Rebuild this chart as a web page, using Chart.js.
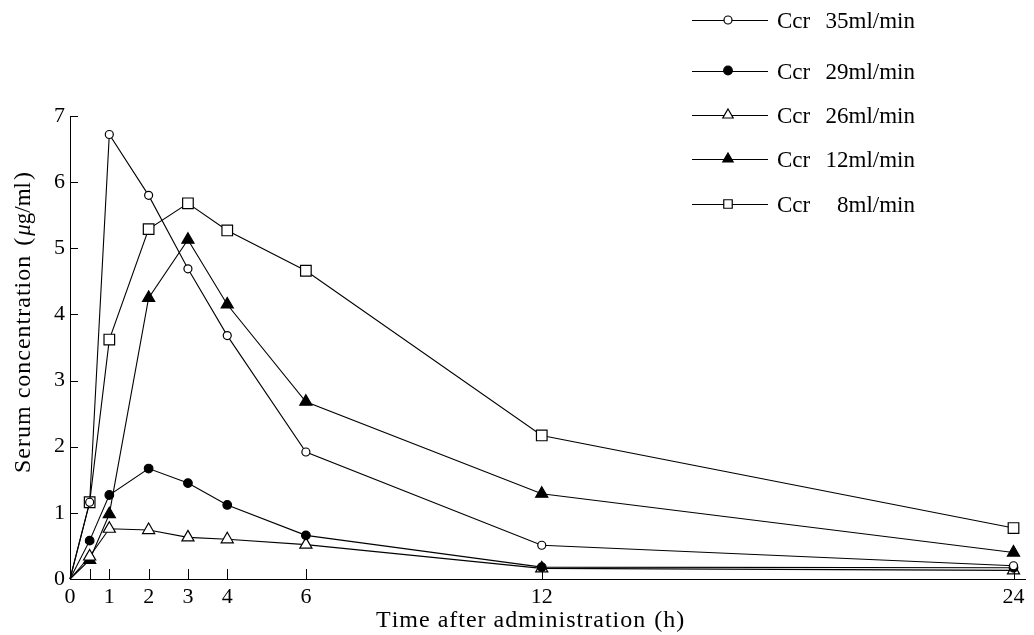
<!DOCTYPE html>
<html><head><meta charset="utf-8">
<script src="https://cdn.jsdelivr.net/npm/chart.js@4.4.1/dist/chart.umd.min.js"></script>
<style>html,body{margin:0;padding:0;background:#fff;} #wrap{position:relative;width:1034px;height:635px;}</style>
</head><body><div id="wrap"><canvas id="c"></canvas></div>
<script>
// ---- data ----
const hours = [0, 0.5, 1, 2, 3, 4, 6, 12, 24];
const ccr35 = [0, 1.16, 6.72, 5.80, 4.69, 3.68, 1.92, 0.51, 0.20];
const ccr29 = [0, 0.58, 1.27, 1.67, 1.45, 1.12, 0.66, 0.18, 0.17];
const ccr26 = [0, 0.34, 0.76, 0.74, 0.63, 0.60, 0.52, 0.16, 0.13];
const ccr12 = [0, 0.29, 0.98, 4.25, 5.13, 4.15, 2.68, 1.29, 0.40];
const ccr8  = [0, 1.16, 3.62, 5.29, 5.68, 5.27, 4.66, 2.17, 0.77];
const seriesNames = ['35ml/min', '29ml/min', '26ml/min', '12ml/min', '8ml/min'];
const xTickValues = [0, 0.5, 1, 2, 3, 4, 6, 12, 24];
const xTickLabels = ['0', '', '1', '2', '3', '4', '6', '12', '24'];
const yTickValues = [0, 1, 2, 3, 4, 5, 6, 7];
const xTitleMain = 'Time after administration';
const xTitleUnit = 'h';
const yTitleMain = 'Serum concentration';
const yTitleUnitGreek = 'μ';
const yTitleUnitRest = 'g/ml';

const SERIF = "'Liberation Serif', 'Times New Roman', serif";

function mk(values) { return hours.map((h, i) => ({x: h, y: values[i]})); }

const styles = [
  {pointStyle: 'circle', r: 4, fill: '#fff'},
  {pointStyle: 'circle', r: 4.3, fill: '#000'},
  {pointStyle: 'triangle', r: 7, fill: '#fff'},
  {pointStyle: 'triangle', r: 7, fill: '#000'},
  {pointStyle: 'rect', r: 7.5, fill: '#fff'}
];
const allSeries = [ccr35, ccr29, ccr26, ccr12, ccr8];

const datasets = allSeries.map((vals, k) => ({
  label: 'Ccr ' + seriesNames[k],
  data: mk(vals),
  borderColor: '#000',
  borderWidth: 1.1,
  backgroundColor: styles[k].fill,
  pointBackgroundColor: styles[k].fill,
  pointBorderColor: '#000',
  pointBorderWidth: 1.2,
  pointStyle: styles[k].pointStyle,
  pointRadius: c => c.dataIndex === 0 ? 0 : styles[k].r,
  pointHoverRadius: c => c.dataIndex === 0 ? 0 : styles[k].r,
  tension: 0,
  clip: false,
  fill: false
}));

function drawMarker(ctx, st, x, y) {
  ctx.save();
  ctx.fillStyle = st.fill; ctx.strokeStyle = '#000'; ctx.lineWidth = 1.2;
  if (Chart.helpers && Chart.helpers.drawPoint) {
    Chart.helpers.drawPoint(ctx, {pointStyle: st.pointStyle, radius: st.r, rotation: 0, borderWidth: 1.2}, x, y);
  } else {
    ctx.beginPath(); ctx.arc(x, y, st.r, 0, Math.PI * 2); ctx.fill(); ctx.stroke();
  }
  ctx.restore();
}

// draws text char by char with extra spacing, left aligned; returns end x
function drawSpaced(ctx, text, x, y, spacing) {
  let px = x;
  for (const ch of text) {
    ctx.fillText(ch, px, y);
    px += ctx.measureText(ch).width + spacing;
  }
  return px - spacing;
}

const decor = {
  id: 'decor',
  beforeDraw(chart) {
    const c = chart.ctx; c.save(); c.fillStyle = '#fff'; c.fillRect(0, 0, chart.width, chart.height); c.restore();
  },
  afterDraw(chart) {
    const ctx = chart.ctx, xs = chart.scales.x, ys = chart.scales.y, ca = chart.chartArea;
    ctx.save();
    // inward tick marks
    ctx.strokeStyle = '#000'; ctx.lineWidth = 1;
    ctx.beginPath();
    yTickValues.forEach(v => { const py = Math.round(ys.getPixelForValue(v)) + 0.5; ctx.moveTo(ca.left, py); ctx.lineTo(ca.left + 8, py); });
    xTickValues.forEach(v => { const px = Math.round(xs.getPixelForValue(v)) + 0.5; ctx.moveTo(px, ca.bottom); ctx.lineTo(px, ca.bottom - 10); });
    ctx.stroke();

    ctx.fillStyle = '#000';
    ctx.textBaseline = 'alphabetic';
    ctx.textAlign = 'left';
    // x title
    ctx.font = '24px ' + SERIF;
    let ex = drawSpaced(ctx, xTitleMain, 376, 627, 1);
    ex += 9;
    ex = drawSpaced(ctx, '(', ex, 627, 0);
    ex = drawSpaced(ctx, xTitleUnit, ex + 1, 627, 0);
    drawSpaced(ctx, ')', ex + 1, 627, 0);

    // y title (rotated)
    ctx.save();
    ctx.translate(30, 473);
    ctx.rotate(-Math.PI / 2);
    ctx.font = '24px ' + SERIF;
    let e = drawSpaced(ctx, yTitleMain, 0, 0, 1);
    e += 10;
    e = drawSpaced(ctx, '(', e, 0, 0);
    ctx.font = 'italic 23px ' + SERIF;
    e = drawSpaced(ctx, yTitleUnitGreek, e + 2, 0, 0);
    ctx.font = '23px ' + SERIF;
    e = drawSpaced(ctx, yTitleUnitRest, e, 0, 0);
    ctx.font = '24px ' + SERIF;
    drawSpaced(ctx, ')', e + 2, 0, 0);
    ctx.restore();

    // legend
    const rowsY = [20, 70.5, 115, 159, 204];
    datasets.forEach((d, k) => {
      const y = rowsY[k];
      ctx.beginPath(); ctx.lineWidth = 1; ctx.strokeStyle = '#000';
      ctx.moveTo(692, Math.round(y) + 0.5); ctx.lineTo(768, Math.round(y) + 0.5); ctx.stroke();
      drawMarker(ctx, {pointStyle: styles[k].pointStyle, r: Math.min(styles[k].r, 6), fill: styles[k].fill}, 728, y);
      ctx.font = '23px ' + SERIF;
      ctx.fillStyle = '#000';
      ctx.textAlign = 'left';
      ctx.fillText('Ccr', 777, y + 8);
      ctx.textAlign = 'right';
      ctx.fillText(seriesNames[k], 915, y + 8);
    });
    ctx.restore();
  }
};

new Chart(document.getElementById('c'), {
  type: 'line',
  data: {datasets},
  options: {
    responsive: true,
    maintainAspectRatio: false,
    animation: false,
    events: [],
    layout: {padding: {top: 116, left: 0, right: 0, bottom: 0}},
    plugins: {legend: {display: false}, tooltip: {enabled: false}, title: {display: false}},
    scales: {
      x: {
        type: 'linear', min: 0, max: 24.3,
        afterBuildTicks: s => { s.ticks = xTickValues.map(v => ({value: v})); },
        afterFit: s => { s.height = 56; },
        ticks: {
          autoSkip: false, maxRotation: 0, padding: 5, color: '#000',
          font: {family: SERIF, size: 22},
          callback: (v) => { const i = xTickValues.indexOf(v); return i >= 0 ? xTickLabels[i] : ''; }
        },
        grid: {display: true, drawOnChartArea: false, drawTicks: false, color: '#000'},
        border: {display: true, color: '#000', width: 1}
      },
      y: {
        type: 'linear', min: 0, max: 7,
        afterBuildTicks: s => { s.ticks = yTickValues.map(v => ({value: v})); },
        afterFit: s => { s.width = 70; },
        ticks: {padding: 5, color: '#000', font: {family: SERIF, size: 22}},
        grid: {display: true, drawOnChartArea: false, drawTicks: false, color: '#000'},
        border: {display: true, color: '#000', width: 1}
      }
    }
  },
  plugins: [decor]
});
</script>
</body></html>
